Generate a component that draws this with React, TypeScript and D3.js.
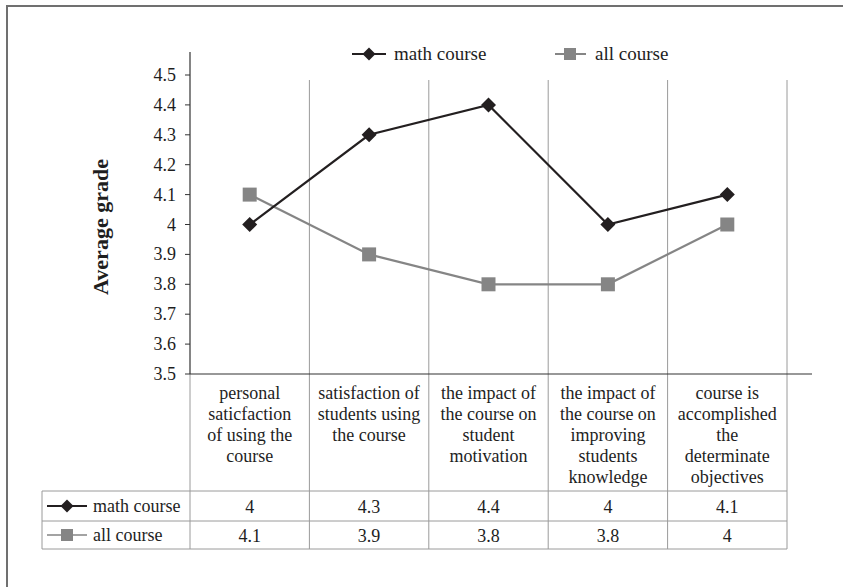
import { useMemo } from 'react'
import * as d3 from 'd3'

const categories: string[][] = [
  ['personal', 'saticfaction', 'of using the', 'course'],
  ['satisfaction of', 'students using', 'the course'],
  ['the impact of', 'the course on', 'student', 'motivation'],
  ['the impact of', 'the course on', 'improving', 'students', 'knowledge'],
  ['course is', 'accomplished', 'the', 'determinate', 'objectives'],
]
const mathValues = [4, 4.3, 4.4, 4, 4.1]
const allValues = [4.1, 3.9, 3.8, 3.8, 4]
const yTicks = [3.5, 3.6, 3.7, 3.8, 3.9, 4, 4.1, 4.2, 4.3, 4.4, 4.5]
const seriesNames = ['math course', 'all course']

const W = 843
const H = 587
const FONT = "'Liberation Serif', 'Times New Roman', Times, serif"
const MATH_COLOR = '#231f20'
const ALL_COLOR = '#858585'
const GRID = '#9a9a9a'
const TEXT = '#1e1e1e'

function Diamond({ x, y, r = 7.5 }: { x: number; y: number; r?: number }) {
  return <path d={`M${x},${y - r}L${x + r},${y}L${x},${y + r}L${x - r},${y}Z`} fill={MATH_COLOR} />
}

function Square({ x, y, s = 14 }: { x: number; y: number; s?: number }) {
  return <rect x={x - s / 2} y={y - s / 2} width={s} height={s} fill={ALL_COLOR} />
}

export default function App() {
  const plotLeft = 190
  const plotRight = 787
  const plotTop = 75
  const plotBottom = 374
  const rowTop = 491
  const rowMid = 521
  const rowBottom = 549
  const tableLeft = 42

  const x = useMemo(
    () => d3.scaleBand<number>().domain(d3.range(categories.length)).range([plotLeft, plotRight]).padding(0),
    []
  )
  const y = useMemo(() => d3.scaleLinear().domain([3.5, 4.5]).range([plotBottom, plotTop]), [])

  const cx = (i: number) => (x(i) ?? 0) + x.bandwidth() / 2
  const line = d3
    .line<number>()
    .x((_, i) => cx(i))
    .y((d) => y(d))

  const bounds = d3.range(categories.length + 1).map((i) => plotLeft + i * x.bandwidth())

  return (
    <svg
      width={W}
      height={H}
      viewBox={`0 0 ${W} ${H}`}
      style={{ position: 'absolute', left: 0, top: 0, background: '#fff', fontFamily: FONT }}
    >
      {/* outer frame (cut at right and bottom) */}
      <path d={`M7,${H}V6H${W}`} fill="none" stroke="#707070" strokeWidth={2} />

      {/* vertical category separators */}
      {bounds.slice(1).map((bx, i) => (
        <line key={`g${i}`} x1={bx} x2={bx} y1={80} y2={rowBottom} stroke={GRID} strokeWidth={1} />
      ))}

      {/* table */}
      <line x1={plotLeft} x2={plotLeft} y1={plotBottom} y2={rowBottom} stroke={GRID} />
      {[rowTop, rowMid, rowBottom].map((ry) => (
        <line key={ry} x1={tableLeft} x2={plotRight} y1={ry} y2={ry} stroke={GRID} />
      ))}
      <line x1={tableLeft} x2={tableLeft} y1={rowTop} y2={rowBottom} stroke={GRID} />

      {/* axes */}
      <line x1={plotLeft} x2={plotLeft} y1={52} y2={plotBottom} stroke="#333" strokeWidth={1.2} />
      <line x1={plotLeft} x2={812} y1={plotBottom} y2={plotBottom} stroke="#333" strokeWidth={1.2} />
      {yTicks.map((t) => (
        <g key={t} transform={`translate(0,${y(t)})`}>
          <line x1={plotLeft - 5} x2={plotLeft} stroke="#333" />
          <text x={176} y={6} textAnchor="end" fontSize={18} fill={TEXT} style={{ fontFamily: FONT }}>
            {String(t)}
          </text>
        </g>
      ))}
      <text
        transform={`translate(108,227) rotate(-90)`}
        textAnchor="middle"
        fontSize={22}
        fontWeight="bold"
        fill={TEXT}
        style={{ fontFamily: FONT }}
      >
        Average grade
      </text>

      {/* series */}
      <path d={line(allValues) ?? ''} fill="none" stroke={ALL_COLOR} strokeWidth={2.2} />
      <path d={line(mathValues) ?? ''} fill="none" stroke={MATH_COLOR} strokeWidth={2.2} />
      {allValues.map((v, i) => (
        <Square key={`a${i}`} x={cx(i)} y={y(v)} />
      ))}
      {mathValues.map((v, i) => (
        <Diamond key={`m${i}`} x={cx(i)} y={y(v)} />
      ))}

      {/* legend */}
      <line x1={352} x2={386} y1={54} y2={54} stroke={MATH_COLOR} strokeWidth={2} />
      <Diamond x={369} y={54} r={6.5} />
      <text x={394} y={60} fontSize={19} fill={TEXT} style={{ fontFamily: FONT }}>
        {seriesNames[0]}
      </text>
      <line x1={555} x2={586} y1={54} y2={54} stroke={ALL_COLOR} strokeWidth={2} />
      <Square x={570} y={54} s={12} />
      <text x={595} y={60} fontSize={19} fill={TEXT} style={{ fontFamily: FONT }}>
        {seriesNames[1]}
      </text>

      {/* category labels */}
      {categories.map((lines, i) => (
        <text key={`c${i}`} textAnchor="middle" fontSize={18} fill={TEXT} style={{ fontFamily: FONT }}>
          {lines.map((l, j) => (
            <tspan key={j} x={cx(i)} y={399 + j * 21}>
              {l}
            </tspan>
          ))}
        </text>
      ))}

      {/* data rows */}
      {[mathValues, allValues].map((vals, r) => {
        const ry = r === 0 ? (rowTop + rowMid) / 2 : (rowMid + rowBottom) / 2
        return (
          <g key={`r${r}`}>
            <line
              x1={47}
              x2={87}
              y1={ry}
              y2={ry}
              stroke={r === 0 ? MATH_COLOR : ALL_COLOR}
              strokeWidth={r === 0 ? 2 : 1.5}
            />
            {r === 0 ? <Diamond x={67} y={ry} r={6.5} /> : <Square x={67} y={ry} s={12} />}
            <text x={93} y={ry + 6} fontSize={18} fill={TEXT} style={{ fontFamily: FONT }}>
              {seriesNames[r]}
            </text>
            {vals.map((v, i) => (
              <text
                key={i}
                x={cx(i)}
                y={ry + 7}
                textAnchor="middle"
                fontSize={18}
                fill={TEXT}
                style={{ fontFamily: FONT }}
              >
                {String(v)}
              </text>
            ))}
          </g>
        )
      })}
    </svg>
  )
}
